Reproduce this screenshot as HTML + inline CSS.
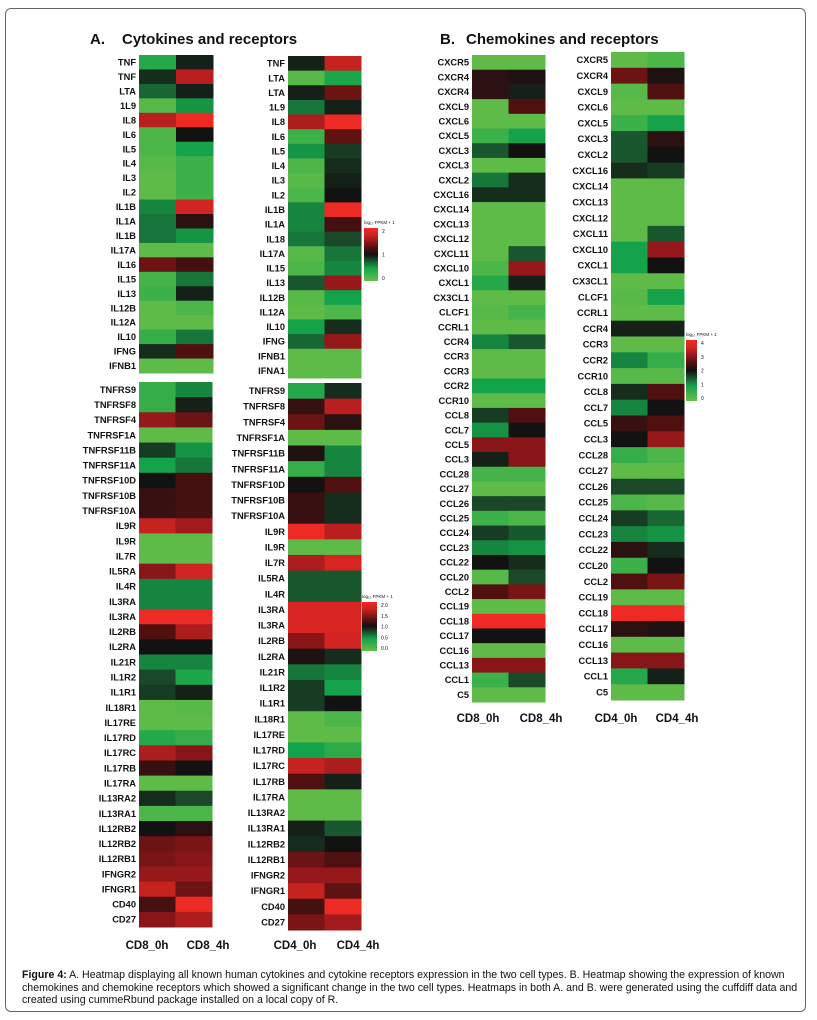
<!DOCTYPE html>
<html><head><meta charset="utf-8"><style>
body{margin:0;background:#fff;width:817px;height:1020px;overflow:hidden;font-family:"Liberation Sans",sans-serif}
#frame{position:absolute;left:5px;top:8px;width:801px;height:1004px;border:1px solid #666;border-radius:6px;box-sizing:border-box}
svg{position:absolute;left:0;top:0}
.cap{position:absolute;left:22px;top:969px;width:780px;font-size:10.6px;line-height:12.6px;color:#111}
</style></head><body>
<div id="frame"></div>
<svg id="fig" width="817" height="1020"></svg>
<div class="cap"><b>Figure 4:</b> A. Heatmap displaying all known human cytokines and cytokine receptors expression in the two cell types. B. Heatmap showing the expression of known chemokines and chemokine receptors which showed a significant change in the two cell types. Heatmaps in both A. and B. were generated using the cuffdiff data and created using cummeRbund package installed on a local copy of R.</div>
<script>
const a1Genes=["TNF","TNF","LTA","1L9","IL8","IL6","IL5","IL4","IL3","IL2","IL1B","IL1A","IL1B","IL17A","IL16","IL15","IL13","IL12B","IL12A","IL10","IFNG","IFNB1"];
const a1Vals=[[0.8,1.9],[1.8,3.3],[1.4,1.9],[0.2,1.1],[3.3,4],[0.3,2],[0.3,1],[0.2,0.5],[0.1,0.5],[0.1,0.5],[1.2,3.5],[1.3,2.2],[1.3,1.1],[0.1,0.1],[2.7,2.4],[0.4,1.3],[0.5,1.9],[0.1,0.3],[0.1,0.1],[0.6,1.3],[1.8,2.5],[0.1,0.1]];
const a2Genes=["TNF","LTA","LTA","1L9","IL8","IL6","IL5","IL4","IL3","IL2","IL1B","IL1A","IL18","IL17A","IL15","IL13","IL12B","IL12A","IL10","IFNG","IFNB1","IFNA1"];
const a2Vals=[[1.9,3.4],[0.2,0.9],[1.9,2.7],[1.3,1.9],[3.2,4],[0.5,2.6],[1.1,1.7],[0.3,1.8],[0.2,1.9],[0.3,2.0],[1.2,4],[1.2,2.4],[1.3,1.6],[0.2,1.3],[0.3,1.2],[1.5,3.0],[0.2,1.0],[0.1,0.3],[1.0,1.8],[1.4,3.0],[0.1,0.1],[0.1,0.1]];
const a3Genes=["TNFRS9","TNFRSF8","TNFRSF4","TNFRSF1A","TNFRSF11B","TNFRSF11A","TNFRSF10D","TNFRSF10B","TNFRSF10A","IL9R","IL9R","IL7R","IL5RA","IL4R","IL3RA","IL3RA","IL2RB","IL2RA","IL21R","IL1R2","IL1R1","IL18R1","IL17RE","IL17RD","IL17RC","IL17RB","IL17RA","IL13RA2","IL13RA1","IL12RB2","IL12RB2","IL12RB1","IFNGR2","IFNGR1","CD40","CD27"];
const a3Vals=[[0.6,1.2],[0.6,1.9],[3.0,2.7],[0.1,0.1],[1.7,1.1],[1.0,1.3],[2.0,2.4],[2.3,2.4],[2.3,2.4],[3.4,3.1],[0.1,0.1],[0.1,0.1],[2.9,3.5],[1.2,1.2],[1.2,1.2],[4,4],[2.5,3.2],[2.0,2.0],[1.2,1.2],[1.6,0.9],[1.7,1.9],[0.1,0.2],[0.1,0.1],[0.8,0.6],[3.2,2.9],[2.3,2.0],[0.1,0.1],[1.8,1.6],[0.3,0.3],[2.0,2.2],[2.7,2.8],[2.8,2.9],[3.0,3.0],[3.4,2.7],[2.4,4],[2.9,3.2]];
const a4Genes=["TNFRS9","TNFRSF8","TNFRSF4","TNFRSF1A","TNFRSF11B","TNFRSF11A","TNFRSF10D","TNFRSF10B","TNFRSF10A","IL9R","IL9R","IL7R","IL5RA","IL4R","IL3RA","IL3RA","IL2RB","IL2RA","IL21R","IL1R2","IL1R1","IL18R1","IL17RE","IL17RD","IL17RC","IL17RB","IL17RA","IL13RA2","IL13RA1","IL12RB2","IL12RB1","IFNGR2","IFNGR1","CD40","CD27"];
const a4Vals=[[0.8,1.8],[2.3,3.3],[2.7,2.2],[0.1,0.1],[2.1,1.2],[0.6,1.2],[2.0,2.5],[2.3,1.8],[2.3,1.8],[4,3.3],[0.1,0.1],[3.2,3.6],[1.5,1.5],[1.5,1.5],[3.6,3.6],[3.6,3.6],[2.9,3.5],[2.1,1.8],[1.3,1.2],[1.7,1.0],[1.7,2.0],[0.1,0.3],[0.1,0.1],[1.0,0.7],[3.4,3.2],[2.5,1.9],[0.1,0.1],[0.1,0.1],[1.9,1.5],[1.8,2.0],[2.7,2.5],[3.0,3.0],[3.4,2.6],[2.4,4],[2.8,3.1]];
const b1Genes=["CXCR5","CXCR4","CXCR4","CXCL9","CXCL6","CXCL5","CXCL3","CXCL3","CXCL2","CXCL16","CXCL14","CXCL13","CXCL12","CXCL11","CXCL10","CXCL1","CX3CL1","CLCF1","CCRL1","CCR4","CCR3","CCR3","CCR2","CCR10","CCL8","CCL7","CCL5","CCL3","CCL28","CCL27","CCL26","CCL25","CCL24","CCL23","CCL22","CCL20","CCL2","CCL19","CCL18","CCL17","CCL16","CCL13","CCL1","C5"];
const b1Vals=[[.1,.1],[2.2,2.1],[2.2,1.9],[.1,2.5],[.1,.1],[.5,1],[1.5,2],[.1,.1],[1.3,1.8],[1.8,1.8],[.1,.1],[.1,.1],[.1,.1],[.1,1.5],[.3,3],[.8,1.9],[.1,.1],[.2,.4],[.1,.1],[1.2,1.5],[.1,.1],[.1,.1],[1,1],[.1,.1],[1.7,2.5],[1.1,2],[2.9,2.9],[1.9,2.9],[.4,.4],[.1,.1],[1.6,1.6],[.5,.3],[1.7,1.5],[1.2,1.1],[2,1.8],[.2,1.6],[2.5,2.8],[.1,.1],[4,4],[2,2],[.1,.1],[2.9,2.9],[.5,1.6],[.1,.1]];
const b2Genes=["CXCR5","CXCR4","CXCL9","CXCL6","CXCL5","CXCL3","CXCL2","CXCL16","CXCL14","CXCL13","CXCL12","CXCL11","CXCL10","CXCL1","CX3CL1","CLCF1","CCRL1","CCR4","CCR3","CCR2","CCR10","CCL8","CCL7","CCL5","CCL3","CCL28","CCL27","CCL26","CCL25","CCL24","CCL23","CCL22","CCL20","CCL2","CCL19","CCL18","CCL17","CCL16","CCL13","CCL1","C5"];
const b2Vals=[[.1,.3],[2.7,2.1],[.2,2.5],[.1,.1],[.5,1],[1.5,2.2],[1.5,2],[1.8,1.7],[.1,.1],[.1,.1],[.1,.1],[.1,1.5],[1,3],[1,2],[.1,.1],[.2,1],[.1,.1],[1.9,1.9],[.1,.1],[1.2,.6],[.2,.2],[1.8,2.5],[1.2,2],[2.3,2.5],[2,3],[.6,.3],[.1,.1],[1.6,1.6],[.3,.2],[1.7,1.4],[1.2,1.1],[2.2,1.8],[.5,2],[2.5,2.8],[.1,.1],[4,4],[2.2,2.1],[.1,.1],[2.9,2.9],[.8,1.9],[.1,.1]];
const legendATicks=["2","1","0"];
const legendA2Ticks=["2.0","1.5","1.0","0.5","0.0"];
const legendBTicks=["4","3","2","1","0"];

const NS="http://www.w3.org/2000/svg";
const svg=document.getElementById('fig');
const stops=[[0,[102,190,72]],[1,[20,163,74]],[1.6,[26,72,40]],[2,[18,18,18]],[2.5,[80,16,16]],[3,[150,24,26]],[3.5,[210,36,34]],[4,[238,42,36]]];
function color(v){for(let i=1;i<stops.length;i++){if(v<=stops[i][0]){const a=stops[i-1],b=stops[i],t=(v-a[0])/(b[0]-a[0]);return 'rgb('+a[1].map((c,k)=>Math.round(c+(b[1][k]-c)*t)).join(',')+')';}}return 'rgb(238,42,36)';}
function mk(tag,attrs){const e=document.createElementNS(NS,tag);for(const k in attrs)e.setAttribute(k,attrs[k]);svg.appendChild(e);return e;}
function txt(x,y,s,size,anchor,weight,name){const t=mk('text',{x:x,y:y,'font-size':size,'text-anchor':anchor,'font-weight':weight,fill:'#111','font-family':'Liberation Sans, sans-serif'});t.textContent=s;


return t;}
function heatmap(id,genes,vals,x0,x1,y0,y1){
  const n=genes.length,rh=(y1-y0)/n,cw=(x1-x0)/2;
  const yScale=i=>y0+i*rh, xScale=j=>x0+j*cw;
  vals.forEach((row,i)=>row.forEach((v,j)=>{
    const r=mk('rect',{x:xScale(j),y:yScale(i),width:cw+0.5,height:rh+0.5,fill:color(v)});
    
    
  }));
  genes.forEach((g,i)=>txt(x0-3,yScale(i)+rh/2+3.3,g,9.3,'end','bold',id+'-label-'+g.toLowerCase()));
}
function legend(id,x,y0,y1,w,ticks){
  const g=mk('defs',{});
  const lg=document.createElementNS(NS,'linearGradient');lg.setAttribute('id',id+'g');lg.setAttribute('x1','0');lg.setAttribute('y1','1');lg.setAttribute('x2','0');lg.setAttribute('y2','0');
  stops.forEach(s=>{const st=document.createElementNS(NS,'stop');st.setAttribute('offset',s[0]/4);st.setAttribute('stop-color',color(s[0]));lg.appendChild(st);});
  g.appendChild(lg);
  const r=mk('rect',{x:x,y:y0,width:w,height:y1-y0,fill:'url(#'+id+'g)'});
  
  
  txt(x,y0-4,'log\u2081\u2080 FPKM + 1',4.5,'start','normal',id+'-title');
  ticks.forEach((t,i)=>txt(x+w+4,y0+3+i*(y1-y0-6)/(ticks.length-1)+2,t,5,'start','normal',id+'-tick'));
}
txt(90,44,'A.',15,'start','bold','panel-a-letter');
txt(122,44,'Cytokines and receptors',15,'start','bold','panel-a-title');
txt(440,44,'B.',15,'start','bold','panel-b-letter');
txt(466,44,'Chemokines and receptors',15,'start','bold','panel-b-title');
heatmap('cd8-cytokines',a1Genes,a1Vals,139,213,55,373);
heatmap('cd4-cytokines',a2Genes,a2Vals,288,361,56,378);
heatmap('cd8-receptors',a3Genes,a3Vals,139,212,382,927);
heatmap('cd4-receptors',a4Genes,a4Vals,288,361,383,930);
heatmap('cd8-chemokines',b1Genes,b1Vals,472,545,55,702);
heatmap('cd4-chemokines',b2Genes,b2Vals,611,684,52,700);
legend('legend-a-top',364,228,281,14,legendATicks);
legend('legend-a-bottom',362,602,651,15,legendA2Ticks);
legend('legend-b',686,340,401,11,legendBTicks);
[['CD8_0h',147],['CD8_4h',208],['CD4_0h',295],['CD4_4h',358]].forEach(c=>txt(c[1],949,c[0],11.5,'middle','bold','column-label-'+c[0].toLowerCase()));
[['CD8_0h',478],['CD8_4h',541],['CD4_0h',616],['CD4_4h',677]].forEach(c=>txt(c[1],722,c[0],11.5,'middle','bold','column-label-b-'+c[0].toLowerCase()));
</script>
</body></html>
